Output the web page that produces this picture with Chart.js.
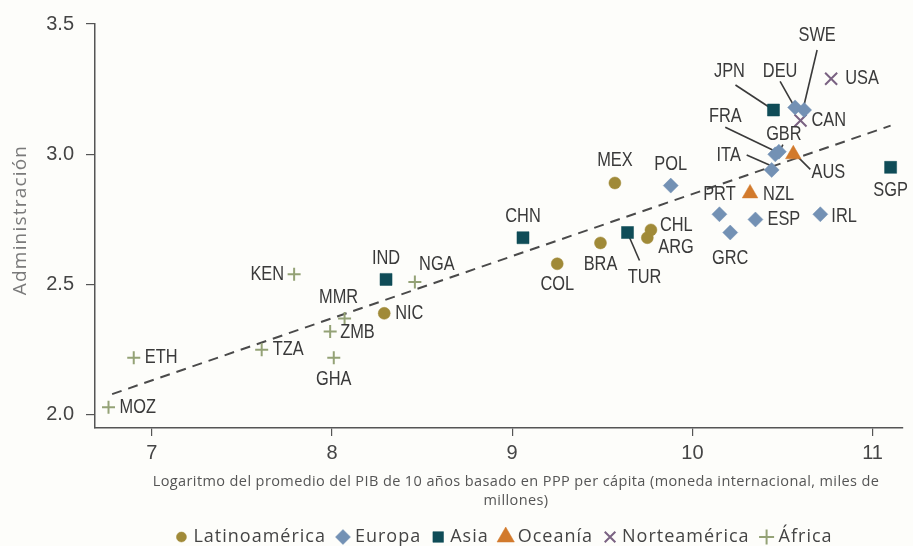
<!DOCTYPE html>
<html>
<head>
<meta charset="utf-8">
<script src="https://cdn.jsdelivr.net/npm/chart.js@4.4.1/dist/chart.umd.min.js"></script>
<style>
  html, body { margin: 0; padding: 0; background: #fdfdfa; }
  #wrap { width: 913px; height: 546px; position: relative; }
</style>
</head>
<body>
<div id="wrap"><canvas id="chart" width="913" height="546"></canvas></div>
<script>
// ---- Data: log of 10-year average GDP per capita (PPP) vs. governance score ----
const latamCodes = ['NIC', 'COL', 'BRA', 'MEX', 'ARG', 'CHL'];
const latamX     = [8.29, 9.25, 9.49, 9.57, 9.75, 9.77];
const latamY     = [2.39, 2.58, 2.66, 2.89, 2.68, 2.71];

const europeCodes = ['POL', 'PRT', 'GRC', 'ESP', 'IRL', 'ITA', 'FRA', 'GBR', 'DEU', 'SWE'];
const europeX     = [9.88, 10.15, 10.21, 10.35, 10.71, 10.44, 10.46, 10.48, 10.57, 10.62];
const europeY     = [2.88, 2.77, 2.70, 2.75, 2.77, 2.94, 3.00, 3.01, 3.18, 3.17];

const asiaCodes = ['IND', 'CHN', 'TUR', 'JPN', 'SGP'];
const asiaX     = [8.30, 9.06, 9.64, 10.45, 11.10];
const asiaY     = [2.52, 2.68, 2.70, 3.17, 2.95];

const oceaniaCodes = ['NZL', 'AUS'];
const oceaniaX     = [10.32, 10.56];
const oceaniaY     = [2.85, 3.00];

const naCodes = ['CAN', 'USA'];
const naX     = [10.60, 10.77];
const naY     = [3.13, 3.29];

const africaCodes = ['MOZ', 'ETH', 'TZA', 'KEN', 'ZMB', 'GHA', 'MMR', 'NGA'];
const africaX     = [6.76, 6.90, 7.61, 7.79, 7.99, 8.01, 8.07, 8.46];
const africaY     = [2.03, 2.22, 2.25, 2.54, 2.32, 2.22, 2.37, 2.51];

// fitted trend line end points
const trendX = [6.78, 11.10];
const trendY = [2.08, 3.11];

const xTicks = [7, 8, 9, 10, 11];
const yTicks = [2.0, 2.5, 3.0, 3.5];

const yTitle = 'Administración';
const xTitle = ['Logaritmo del promedio del PIB de 10 años basado en PPP per cápita (moneda internacional, miles de',
                'millones)'];

// ---- Label placement (pixel offsets from each marker; optional leader line) ----
const labelPlacement = {
  MOZ: { dx: 11, dy: 0, align: 'left' },
  ETH: { dx: 11, dy: 0, align: 'left' },
  TZA: { dx: 11, dy: 0, align: 'left' },
  KEN: { dx: -10, dy: 0, align: 'right' },
  ZMB: { dx: 10, dy: 1, align: 'left' },
  GHA: { dx: 0, dy: 22 },
  MMR: { dx: -6, dy: -21 },
  NGA: { dx: 22, dy: -17 },
  NIC: { dx: 11, dy: 0, align: 'left' },
  IND: { dx: 0, dy: -21 },
  CHN: { dx: 0, dy: -21 },
  COL: { dx: 0, dy: 21 },
  BRA: { dx: 0, dy: 22 },
  MEX: { dx: 0, dy: -22 },
  TUR: { dx: 17, dy: 45, leader: [2, 5, 12, 28] },
  CHL: { dx: 9, dy: -4, align: 'left' },
  ARG: { dx: 11, dy: 10, align: 'left' },
  POL: { dx: 0, dy: -21 },
  PRT: { dx: 0, dy: -20 },
  GRC: { dx: 0, dy: 26 },
  ESP: { dx: 12, dy: 0, align: 'left' },
  IRL: { dx: 11, dy: 2, align: 'left' },
  NZL: { dx: 13, dy: 1, align: 'left' },
  SGP: { dx: 0, dy: 23 },
  ITA: { dx: -43, dy: -14, leader: [-25, -15, 0, -4] },
  FRA: { dx: -50, dy: -38, leader: [-50, -27, 0, -3] },
  GBR: { dx: 5, dy: -17, leader: [4, -7, 1, -1] },
  AUS: { dx: 35, dy: 18, leader: [5, 3, 17, 15] },
  JPN: { dx: -44, dy: -38, leader: [-38, -25, -3, -2] },
  DEU: { dx: -15, dy: -36, leader: [-15, -26, -2, -3] },
  SWE: { dx: 13, dy: -74, leader: [13, -60, -1, -1] },
  CAN: { dx: 11, dy: 0, align: 'left' },
  USA: { dx: 14, dy: 0, align: 'left' }
};

function points(codes, xs, ys) {
  return codes.map((c, i) => ({ x: xs[i], y: ys[i], code: c }));
}

const groups = [
  { label: 'Latinoamérica', codes: latamCodes, xs: latamX, ys: latamY, style: 'circle', color: '#a08a38', radius: 6 },
  { label: 'Europa', codes: europeCodes, xs: europeX, ys: europeY, style: 'rectRot', color: '#7391b4', radius: 7.5 },
  { label: 'Asia', codes: asiaCodes, xs: asiaX, ys: asiaY, style: 'rect', color: '#0f4c57', radius: 8.5 },
  { label: 'Oceanía', codes: oceaniaCodes, xs: oceaniaX, ys: oceaniaY, style: 'triangle', color: '#d27a2c', radius: 9 },
  { label: 'Norteamérica', codes: naCodes, xs: naX, ys: naY, style: 'crossRot', color: '#7a6282', radius: 8.5, line: true },
  { label: 'África', codes: africaCodes, xs: africaX, ys: africaY, style: 'cross', color: '#94a276', radius: 6.5, line: true }
];

const datasets = groups.map(g => ({
  type: 'scatter',
  label: g.label,
  data: points(g.codes, g.xs, g.ys),
  pointStyle: g.style,
  pointRadius: g.radius,
  pointHoverRadius: g.radius,
  backgroundColor: g.color,
  borderColor: g.color,
  pointBorderWidth: g.line ? 2 : 0.5
}));

datasets.push({
  type: 'line',
  label: 'trend',
  data: trendX.map((x, i) => ({ x, y: trendY[i] })),
  borderColor: '#4a4a4a',
  borderWidth: 2,
  borderDash: [10, 7],
  pointRadius: 0,
  fill: false
});

const LABEL_FONT = '19.5px "Liberation Sans", Arial, sans-serif';

function drawCondensed(ctx, text, x, y, align) {
  const sx = 0.84;
  ctx.save();
  ctx.font = LABEL_FONT;
  const w = ctx.measureText(text).width * sx;
  let left = x;
  if (align === 'right') left = x - w;
  else if (align !== 'left') left = x - w / 2;
  ctx.translate(left, y);
  ctx.scale(sx, 1);
  ctx.textAlign = 'left';
  ctx.textBaseline = 'middle';
  ctx.fillText(text, 0, 0);
  ctx.restore();
}

const countryLabels = {
  id: 'countryLabels',
  beforeDatasetsDraw(chart) {
    const ctx = chart.ctx;
    ctx.save();
    ctx.strokeStyle = '#3a3a3a';
    ctx.lineWidth = 1.6;
    chart.data.datasets.forEach((ds, di) => {
      if (ds.type !== 'scatter') return;
      chart.getDatasetMeta(di).data.forEach((el, i) => {
        const p = labelPlacement[ds.data[i].code];
        if (!p || !p.leader) return;
        const L = p.leader;
        ctx.beginPath();
        ctx.moveTo(el.x + L[0], el.y + L[1]);
        ctx.lineTo(el.x + L[2], el.y + L[3]);
        ctx.stroke();
      });
    });
    ctx.restore();
  },
  afterDatasetsDraw(chart) {
    const ctx = chart.ctx;
    ctx.save();
    ctx.fillStyle = '#3a3a3a';
    chart.data.datasets.forEach((ds, di) => {
      if (ds.type !== 'scatter') return;
      chart.getDatasetMeta(di).data.forEach((el, i) => {
        const code = ds.data[i].code;
        const p = labelPlacement[code] || { dx: 0, dy: -20 };
        drawCondensed(ctx, code, el.x + p.dx, el.y + p.dy, p.align || 'center');
      });
    });
    ctx.restore();
  }
};

function legendMarker(ctx, d, x, y) {
  const isLine = d.pointStyle === 'cross' || d.pointStyle === 'crossRot';
  ctx.fillStyle = d.backgroundColor;
  ctx.strokeStyle = d.borderColor;
  ctx.lineWidth = isLine ? 2 : 0.5;
  const r = d.pointStyle === 'triangle' ? 10 : (d.pointStyle === 'circle' ? 5 : 7.5);
  Chart.helpers.drawPoint(ctx, { pointStyle: d.pointStyle, radius: r, borderWidth: ctx.lineWidth, rotation: 0 }, x, y);
}

const frame = {
  id: 'frame',
  beforeDraw(chart) {
    const ctx = chart.ctx;
    ctx.save();
    ctx.fillStyle = '#fdfdfa';
    ctx.fillRect(0, 0, chart.width, chart.height);
    ctx.restore();
  },
  afterDraw(chart) {
    const ctx = chart.ctx;
    const area = chart.chartArea;
    ctx.save();
    // y-axis title
    ctx.translate(21, (area.top + area.bottom) / 2 - 6);
    ctx.rotate(-Math.PI / 2);
    ctx.font = '19px "Open Sans", sans-serif';
    ctx.letterSpacing = '1.2px';
    ctx.fillStyle = '#7a7a7a';
    ctx.textAlign = 'center';
    ctx.textBaseline = 'middle';
    ctx.fillText(yTitle, 0, 0);
    ctx.restore();

    // x-axis title
    ctx.save();
    ctx.font = '14.5px "Open Sans", sans-serif';
    ctx.letterSpacing = '0.4px';
    ctx.fillStyle = '#555';
    ctx.textAlign = 'center';
    ctx.textBaseline = 'middle';
    xTitle.forEach((line, i) => ctx.fillText(line, 516, 482 + i * 19));
    ctx.restore();

    // legend
    ctx.save();
    ctx.font = '18px "Open Sans", sans-serif';
    ctx.letterSpacing = '1px';
    const items = chart.data.datasets.filter(d => d.type === 'scatter');
    const legY = 537;
    const widths = items.map(d => ctx.measureText(d.label).width);
    const total = widths.reduce((a, b) => a + b, 0) + items.length * 18 + (items.length - 1) * 11;
    let cur = 504 - total / 2;
    items.forEach((d, i) => {
      legendMarker(ctx, d, cur + 6, legY);
      ctx.fillStyle = '#444';
      ctx.textAlign = 'left';
      ctx.textBaseline = 'middle';
      ctx.fillText(d.label, cur + 18, legY);
      cur += 18 + widths[i] + 11;
    });
    ctx.restore();
  }
};

new Chart(document.getElementById('chart'), {
  data: { datasets },
  options: {
    responsive: false,
    animation: false,
    layout: { padding: { top: 21, right: 8, left: 0, bottom: 0 } },
    plugins: {
      legend: { display: false },
      tooltip: { enabled: false }
    },
    scales: {
      x: {
        type: 'linear',
        min: 6.685,
        max: 11.166,
        afterBuildTicks: s => { s.ticks = xTicks.map(v => ({ value: v })); },
        afterFit: s => { s.height = 118; },
        grid: { drawOnChartArea: false, drawTicks: true, tickLength: 8, color: '#555', lineWidth: 1.2 },
        border: { display: true, color: '#555', width: 1.5 },
        ticks: {
          color: '#454545',
          font: { family: '"Liberation Sans", Arial, sans-serif', size: 20 },
          padding: 5,
          maxRotation: 0,
          callback: v => String(v)
        }
      },
      y: {
        type: 'linear',
        min: 1.95,
        max: 3.5,
        afterBuildTicks: s => { s.ticks = yTicks.map(v => ({ value: v })); },
        afterFit: s => { s.width = 95; },
        grid: { drawOnChartArea: false, drawTicks: true, tickLength: 9, color: '#555', lineWidth: 1.2 },
        border: { display: true, color: '#555', width: 1.5 },
        ticks: {
          color: '#454545',
          font: { family: '"Liberation Sans", Arial, sans-serif', size: 20 },
          padding: 12,
          callback: v => Number(v).toFixed(1)
        }
      }
    }
  },
  plugins: [frame, countryLabels]
});
</script>
</body>
</html>
